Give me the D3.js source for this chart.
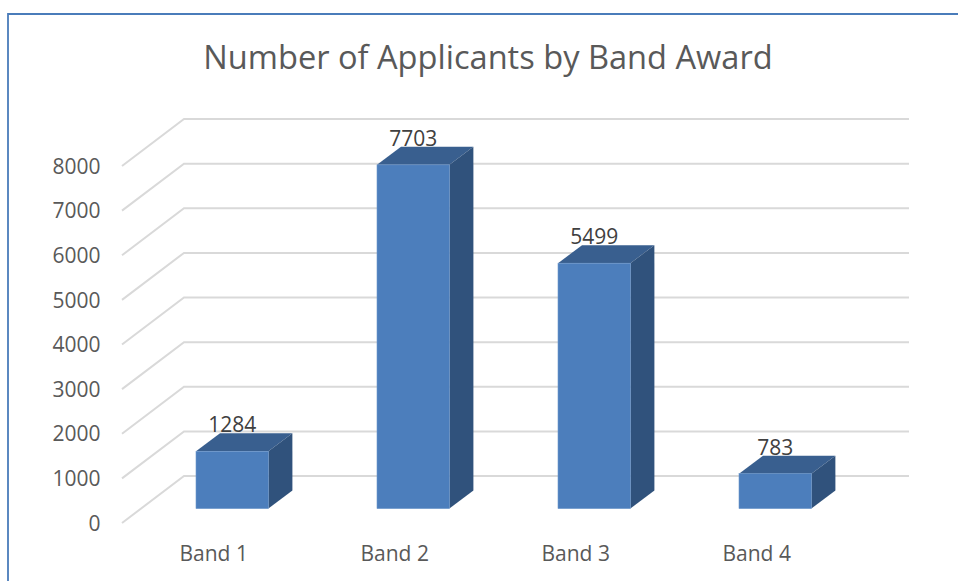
<!DOCTYPE html>
<html><head><meta charset="utf-8">
<script src="https://cdn.jsdelivr.net/npm/d3@7"></script>
<style>html,body{margin:0;padding:0;background:#fff}svg{display:block}text{font-family:"Open Sans",sans-serif}</style>
</head><body><svg id="c" width="958" height="581"></svg>
<script>
const categories = ["Band 1","Band 2","Band 3","Band 4"];
const applicants = [1284,7703,5499,783];
const tickValues = [0,1000,2000,3000,4000,5000,6000,7000,8000];
const titleText = "Number of Applicants by Band Award";

const svg = d3.select("#c");
const y = d3.scaleLinear().domain([0,8000]).range([523,166]);
const x = d3.scaleBand().domain(categories).range([141.7,865.7]).paddingInner(0.6).paddingOuter(0.3);
const wall = {dx:62, dy:-47, right:909};
const barBase = 508.6, bar3d = {dx:24, dy:-18};
const barY = v => barBase - (y(0)-y(v));

// frame
svg.append("path").attr("d","M958,14H8V581").attr("fill","none").attr("stroke","#4a7cba").attr("stroke-width",1.8);

// title
svg.append("text").attr("x",488).attr("y",69).attr("text-anchor","middle")
  .attr("font-size",32.6).attr("fill","#595959").text(titleText);

// grid
svg.append("g").selectAll("path").data(tickValues).join("path")
  .attr("d",v=>`M${122},${y(v)}L${122+wall.dx},${y(v)+wall.dy}H${wall.right}`)
  .attr("fill","none").attr("stroke","#d9d9d9").attr("stroke-width",2);

// y axis
const yAxis = svg.append("g").attr("transform","translate(100.5,0.5)")
  .call(d3.axisLeft(y).tickValues(tickValues).tickSize(0).tickPadding(0).tickFormat(d3.format("d")));
yAxis.select(".domain").remove();
yAxis.selectAll("text").attr("font-size",21).attr("fill","#595959").style("font-family",'"Open Sans",sans-serif');

// bars
const bars = svg.append("g").selectAll("g").data(categories.map((c,i)=>({c,v:applicants[i]}))).join("g");
const w = x.bandwidth();
bars.append("path").attr("fill","#395f8f")
  .attr("d",d=>{const l=x(d.c),t=barY(d.v);return `M${l},${t}l${bar3d.dx},${bar3d.dy}h${w}l${-bar3d.dx},${-bar3d.dy}z`;});
bars.append("path").attr("fill","#30527c")
  .attr("d",d=>{const r=x(d.c)+w,t=barY(d.v);return `M${r},${t}l${bar3d.dx},${bar3d.dy}V${barBase+bar3d.dy}l${-bar3d.dx},${-bar3d.dy}z`;});
bars.append("rect").attr("fill","#4c7ebc").attr("stroke","#6d97cb").attr("stroke-width",.6)
  .attr("x",d=>x(d.c)).attr("y",d=>barY(d.v)).attr("width",w).attr("height",d=>barBase-barY(d.v));
bars.append("text").attr("x",d=>x(d.c)+w/2).attr("y",d=>barY(d.v)-19).attr("text-anchor","middle")
  .attr("font-size",21).attr("fill","#404040").text(d=>d.v);

// categories
svg.append("g").selectAll("text").data(categories).join("text")
  .attr("x",d=>x(d)+w/2-18.5).attr("y",561).attr("text-anchor","middle")
  .attr("font-size",21).attr("fill","#595959").text(d=>d);
</script></body></html>
